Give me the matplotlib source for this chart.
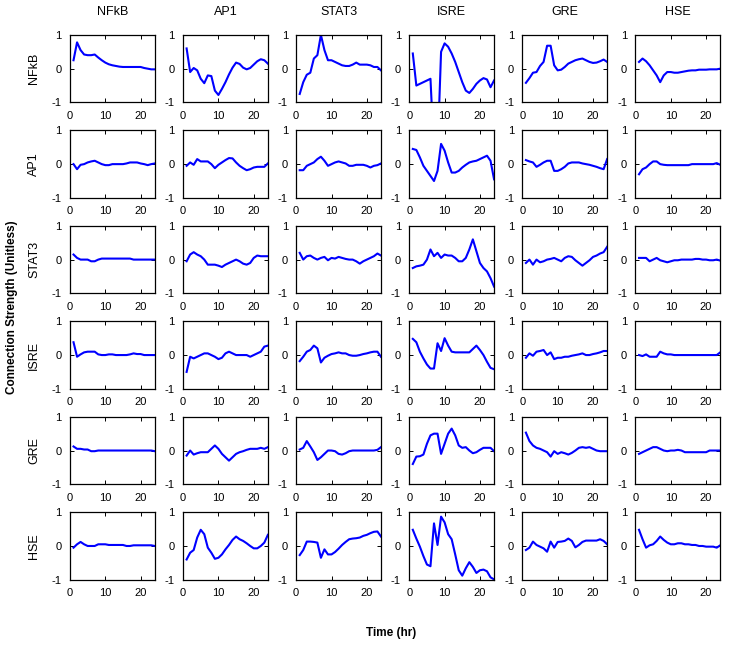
import matplotlib
matplotlib.use("Agg")
import matplotlib.pyplot as plt

plt.rcParams['font.family'] = ['Liberation Sans', 'DejaVu Sans']

factors = ['NFkB', 'AP1', 'STAT3', 'ISRE', 'GRE', 'HSE']
hours = list(range(1, 25))
x_ticks = [0, 10, 20]
y_ticks = [-1, 0, 1]

# rows: source factor; each row holds 6 series (columns: target factor)
row_nfkb = [
    [0.25, 0.78, 0.55, 0.42, 0.40, 0.40, 0.42, 0.33, 0.25, 0.18, 0.13, 0.10,
     0.08, 0.06, 0.05, 0.05, 0.05, 0.05, 0.05, 0.05, 0.02, 0.0, -0.02, -0.02],
    [0.60, -0.10, 0.02, -0.05, -0.30, -0.43, -0.20, -0.22, -0.65, -0.78, -0.60, -0.40,
     -0.17, 0.03, 0.18, 0.14, 0.03, -0.02, 0.02, 0.12, 0.22, 0.28, 0.25, 0.15],
    [-0.75, -0.40, -0.18, -0.12, 0.30, 0.40, 1.00, 0.55, 0.25, 0.25, 0.20, 0.15,
     0.10, 0.08, 0.08, 0.12, 0.18, 0.12, 0.12, 0.12, 0.10, 0.05, 0.05, -0.05],
    [0.45, -0.50, -0.45, -0.40, -0.35, -0.30, -2.50, -2.50, 0.50, 0.75, 0.65, 0.45,
     0.20, -0.10, -0.40, -0.65, -0.72, -0.60, -0.45, -0.35, -0.28, -0.32, -0.55, -0.35],
    [-0.42, -0.28, -0.12, -0.10, 0.08, 0.20, 0.68, 0.68, 0.10, -0.05, -0.03, 0.05,
     0.15, 0.20, 0.25, 0.28, 0.30, 0.25, 0.20, 0.17, 0.18, 0.22, 0.27, 0.20],
    [0.20, 0.30, 0.22, 0.10, -0.05, -0.20, -0.40, -0.20, -0.10, -0.10, -0.12, -0.12,
     -0.10, -0.08, -0.06, -0.05, -0.05, -0.03, -0.03, -0.03, -0.02, -0.02, -0.02, 0.0],
]
row_ap1 = [
    [0.0, -0.15, -0.02, 0.0, 0.05, 0.08, 0.10, 0.05, 0.0, -0.03, -0.03, 0.0,
     0.0, 0.0, 0.0, 0.02, 0.05, 0.05, 0.05, 0.02, 0.0, -0.03, 0.0, 0.02],
    [-0.05, 0.05, -0.02, 0.15, 0.08, 0.08, 0.08, 0.0, -0.12, -0.02, 0.05, 0.12,
     0.18, 0.17, 0.05, -0.05, -0.12, -0.18, -0.15, -0.10, -0.08, -0.08, -0.08, 0.02],
    [-0.18, -0.18, -0.05, 0.0, 0.05, 0.15, 0.22, 0.10, -0.05, 0.0, 0.05, 0.08,
     0.05, 0.02, -0.05, -0.05, -0.02, -0.02, -0.02, -0.05, -0.10, -0.05, -0.03, 0.02],
    [0.45, 0.42, 0.20, -0.05, -0.20, -0.35, -0.50, -0.20, 0.60, 0.40, 0.05, -0.25,
     -0.25, -0.20, -0.10, -0.02, 0.05, 0.08, 0.10, 0.15, 0.20, 0.25, 0.10, -0.45],
    [0.12, 0.08, 0.05, -0.08, -0.02, 0.05, 0.10, 0.10, -0.20, -0.20, -0.15, -0.08,
     0.02, 0.05, 0.05, 0.05, 0.02, 0.0, -0.02, -0.05, -0.08, -0.12, -0.15, 0.15],
    [-0.30, -0.15, -0.10, 0.0, 0.08, 0.08, 0.0, -0.02, -0.03, -0.03, -0.03, -0.03,
     -0.03, -0.03, -0.03, 0.0, 0.0, 0.0, 0.0, 0.0, 0.0, 0.0, 0.03, -0.02],
]
row_stat3 = [
    [0.15, 0.05, 0.0, 0.0, 0.0, -0.05, -0.05, 0.0, 0.03, 0.03, 0.03, 0.03,
     0.03, 0.03, 0.03, 0.03, 0.03, 0.0, 0.0, 0.0, 0.0, 0.0, 0.0, 0.0],
    [-0.05, 0.15, 0.22, 0.15, 0.10, 0.0, -0.15, -0.15, -0.15, -0.18, -0.22, -0.15,
     -0.10, -0.05, 0.0, -0.05, -0.12, -0.15, -0.10, 0.05, 0.12, 0.10, 0.10, 0.10],
    [0.20, 0.0, 0.10, 0.12, 0.05, 0.0, 0.05, 0.08, -0.02, 0.05, 0.03, 0.08,
     0.05, 0.02, 0.0, 0.0, -0.05, -0.12, -0.05, 0.0, 0.05, 0.10, 0.18, 0.12],
    [-0.25, -0.20, -0.18, -0.15, 0.0, 0.30, 0.10, 0.20, 0.05, 0.15, 0.12, 0.12,
     0.05, -0.05, -0.05, 0.05, 0.30, 0.60, 0.25, -0.10, -0.25, -0.35, -0.55, -0.80],
    [-0.10, 0.0, -0.15, 0.0, -0.08, -0.05, 0.0, 0.02, 0.05, 0.0, -0.05, 0.05,
     0.10, 0.08, -0.02, -0.10, -0.18, -0.10, -0.02, 0.08, 0.12, 0.18, 0.22, 0.38],
    [0.05, 0.05, 0.05, -0.05, 0.0, 0.05, -0.02, -0.05, -0.08, -0.05, -0.02, -0.02,
     0.0, 0.0, 0.0, 0.0, 0.02, 0.02, 0.0, 0.0, -0.02, -0.02, 0.0, -0.03],
]
row_isre = [
    [0.38, -0.05, 0.02, 0.08, 0.10, 0.10, 0.10, 0.02, 0.0, 0.0, 0.02, 0.02,
     0.0, 0.0, 0.0, 0.0, 0.02, 0.05, 0.03, 0.03, 0.0, 0.0, 0.0, 0.0],
    [-0.50, -0.05, -0.10, -0.05, 0.0, 0.05, 0.05, 0.0, -0.05, -0.12, -0.08, 0.05,
     0.10, 0.05, 0.0, 0.0, 0.0, 0.0, -0.05, 0.0, 0.05, 0.10, 0.25, 0.28],
    [-0.18, -0.05, 0.10, 0.15, 0.28, 0.20, -0.22, -0.08, -0.02, 0.03, 0.05, 0.08,
     0.05, 0.05, 0.0, -0.02, -0.02, 0.0, 0.03, 0.05, 0.08, 0.10, 0.10, -0.05],
    [0.48, 0.38, 0.10, -0.10, -0.28, -0.40, -0.40, 0.35, 0.12, 0.50, 0.28, 0.10,
     0.08, 0.08, 0.08, 0.08, 0.08, 0.18, 0.28, 0.15, 0.0, -0.20, -0.38, -0.42],
    [-0.08, 0.05, -0.02, 0.10, 0.12, 0.15, 0.0, 0.08, -0.12, -0.08, -0.08, -0.05,
     -0.05, -0.02, 0.0, 0.02, 0.05, 0.0, 0.0, 0.03, 0.05, 0.08, 0.12, 0.12],
    [0.0, -0.03, 0.02, -0.05, -0.05, -0.05, 0.10, 0.05, 0.02, 0.02, 0.0, 0.0,
     0.0, 0.0, 0.0, 0.0, 0.0, 0.0, 0.0, 0.0, 0.0, 0.0, 0.0, 0.08],
]
row_gre = [
    [0.12, 0.05, 0.05, 0.03, 0.03, -0.02, -0.02, 0.0, 0.0, 0.0, 0.0, 0.0,
     0.0, 0.0, 0.0, 0.0, 0.0, 0.0, 0.0, 0.0, 0.0, 0.0, 0.0, -0.02],
    [-0.15, 0.0, -0.12, -0.08, -0.05, -0.05, -0.05, 0.05, 0.15, 0.05, -0.10, -0.20,
     -0.30, -0.20, -0.10, -0.05, -0.02, 0.02, 0.05, 0.05, 0.05, 0.08, 0.05, 0.10],
    [0.03, 0.08, 0.28, 0.12, -0.05, -0.28, -0.20, -0.10, 0.0, 0.0, -0.02, -0.10,
     -0.12, -0.08, -0.02, 0.0, 0.0, 0.0, 0.0, 0.0, 0.0, 0.0, 0.02, 0.10],
    [-0.40, -0.18, -0.17, -0.12, 0.20, 0.45, 0.50, 0.50, -0.10, 0.20, 0.50, 0.65,
     0.45, 0.15, 0.08, 0.10, 0.0, -0.08, -0.05, 0.02, 0.08, 0.08, 0.08, -0.02],
    [0.53, 0.28, 0.15, 0.08, 0.05, 0.0, -0.05, -0.18, -0.02, -0.10, -0.05, -0.08,
     -0.12, -0.07, 0.0, 0.08, 0.10, 0.08, 0.10, 0.05, 0.0, -0.02, -0.02, -0.02],
    [-0.10, -0.05, 0.0, 0.05, 0.10, 0.10, 0.05, 0.0, -0.02, 0.0, 0.0, 0.02,
     0.0, -0.05, -0.05, -0.05, -0.05, -0.05, -0.05, -0.05, 0.0, 0.0, 0.0, 0.0],
]
row_hse = [
    [-0.05, 0.05, 0.12, 0.05, 0.0, 0.0, 0.0, 0.05, 0.05, 0.05, 0.03, 0.03,
     0.03, 0.03, 0.03, 0.0, 0.0, 0.02, 0.02, 0.02, 0.02, 0.02, 0.02, 0.0],
    [-0.40, -0.20, -0.12, 0.25, 0.48, 0.35, -0.05, -0.20, -0.38, -0.35, -0.25, -0.10,
     0.03, 0.18, 0.28, 0.20, 0.15, 0.08, 0.0, -0.07, -0.07, 0.0, 0.10, 0.33],
    [-0.27, -0.12, 0.13, 0.13, 0.12, 0.10, -0.35, -0.10, -0.25, -0.25, -0.18, -0.08,
     0.03, 0.12, 0.20, 0.22, 0.23, 0.25, 0.30, 0.33, 0.38, 0.42, 0.43, 0.28],
    [0.48, 0.22, -0.02, -0.30, -0.55, -0.60, 0.67, 0.03, 0.87, 0.70, 0.35, 0.20,
     -0.25, -0.72, -0.88, -0.66, -0.48, -0.62, -0.80, -0.72, -0.70, -0.75, -0.93, -0.99],
    [-0.12, -0.05, 0.13, 0.03, -0.02, -0.07, -0.17, 0.13, -0.05, 0.12, 0.13, 0.15,
     0.22, 0.15, -0.04, 0.03, 0.12, 0.16, 0.16, 0.16, 0.16, 0.20, 0.15, 0.05],
    [0.48, 0.20, -0.05, 0.02, 0.05, 0.15, 0.28, 0.18, 0.10, 0.05, 0.05, 0.08,
     0.08, 0.05, 0.05, 0.03, 0.03, 0.0, 0.0, -0.02, -0.02, -0.02, -0.05, 0.02],
]
rows = [row_nfkb, row_ap1, row_stat3, row_isre, row_gre, row_hse]

fig, axes = plt.subplots(6, 6, figsize=(7.29, 6.47), dpi=100)
fig.subplots_adjust(left=0.096, right=0.988, top=0.946, bottom=0.104,
                    wspace=0.334, hspace=0.415)

for i, row in enumerate(rows):
    for j, series in enumerate(row):
        ax = axes[i, j]
        ax.plot(hours, series, color='#0000FF', lw=1.5)
        ax.set_xlim(0, 24)
        ax.set_ylim(-1, 1)
        ax.set_xticks(x_ticks)
        ax.set_yticks(y_ticks)
        ax.set_yticklabels([str(v) for v in y_ticks])
        ax.tick_params(direction='in', length=3, width=0.7, labelsize=8,
                       top=True, right=True, colors='black')
        ax.tick_params(axis='x', pad=6)
        ax.tick_params(axis='y', pad=6)
        for s in ax.spines.values():
            s.set_linewidth(0.9)
        if i == 0:
            ax.text(0.5, 1.25, factors[j], transform=ax.transAxes, ha='center',
                    va='bottom', fontsize=9)
        if j == 0:
            ax.set_ylabel(factors[i], fontsize=9)
            ax.yaxis.set_label_coords(-0.35, 0.5)

fig.text(0.016, 0.525, 'Connection Strength (Unitless)', rotation=90,
         ha='center', va='center', fontsize=8.5, fontweight='bold')
fig.text(0.537, 0.022, 'Time (hr)', ha='center', va='center',
         fontsize=8.5, fontweight='bold')

fig.savefig('out.png', dpi=100)
